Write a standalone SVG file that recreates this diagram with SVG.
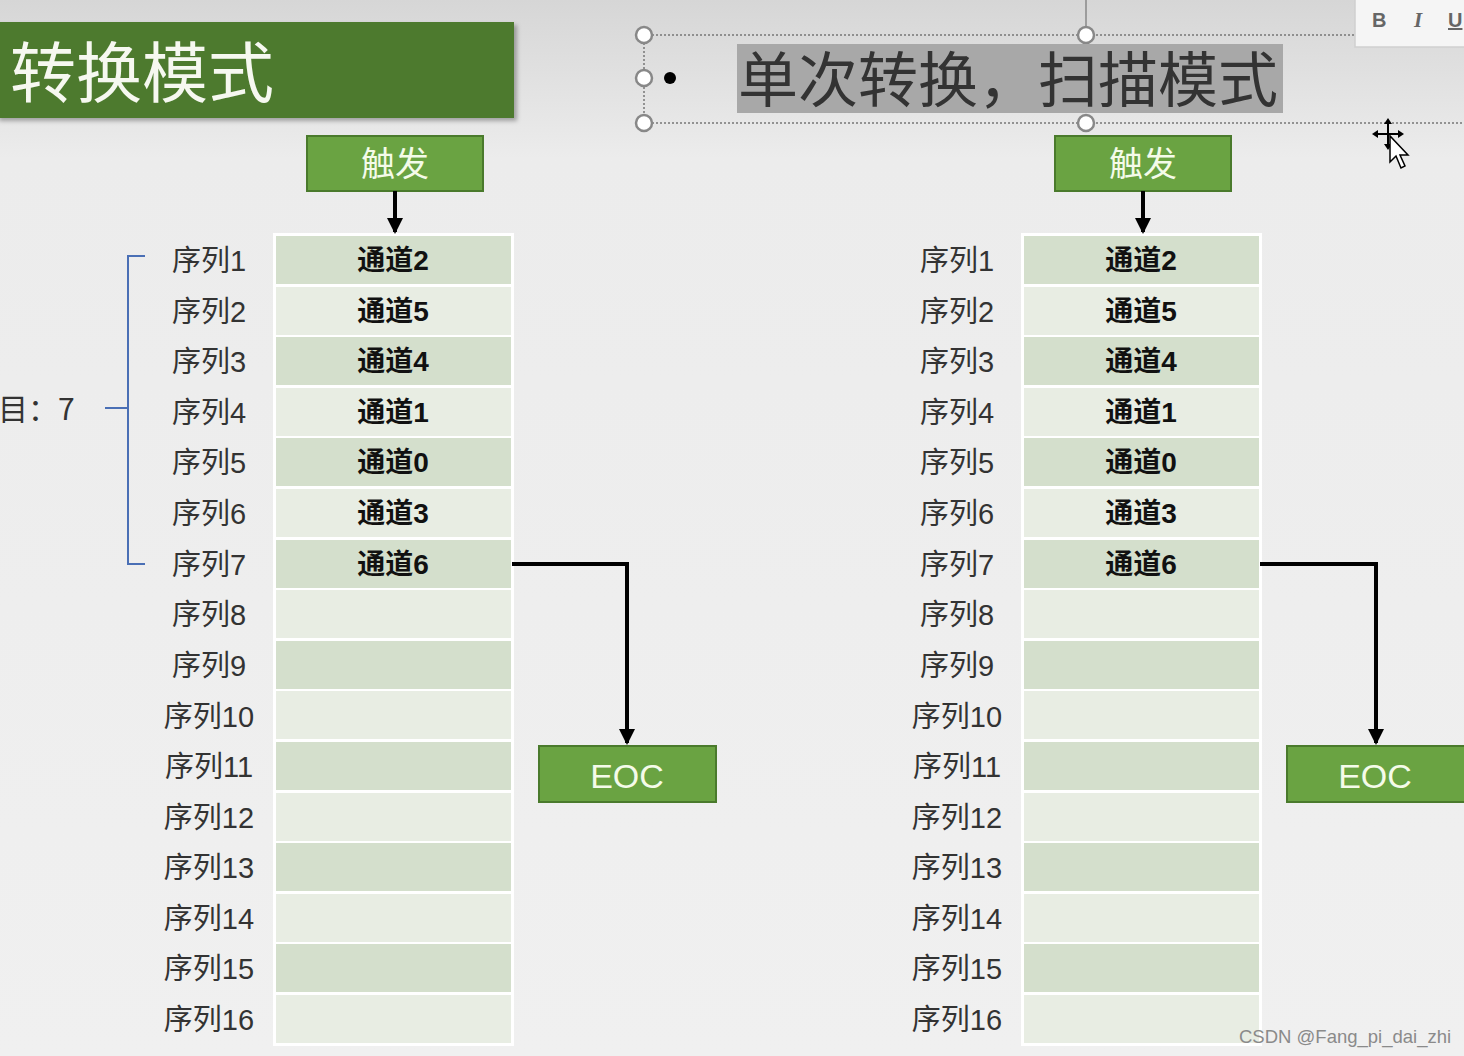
<svg xmlns="http://www.w3.org/2000/svg" width="1464" height="1056" viewBox="0 0 1464 1056">
<defs>
<linearGradient id="bg" x1="0" y1="0" x2="0" y2="1">
<stop offset="0" stop-color="#d6d6d6"/>
<stop offset="0.15" stop-color="#ececec"/>
<stop offset="1" stop-color="#f0f0f0"/>
</linearGradient>
<marker id="arr" viewBox="0 0 16 16" refX="8" refY="14" markerWidth="16" markerHeight="16" orient="0" markerUnits="userSpaceOnUse">
<path d="M0,0 L16,0 L8,16 Z" fill="#000"/>
</marker>
<filter id="sh" x="-5%" y="-10%" width="115%" height="130%">
<feDropShadow dx="3" dy="3" stdDeviation="2" flood-color="#000" flood-opacity="0.3"/>
</filter>
</defs>
<style>
.cjk{font-family:"Noto Sans CJK SC","Liberation Sans",sans-serif}
.seq{font-family:"Liberation Sans","Noto Sans CJK SC",sans-serif;font-size:29px;fill:#333;text-anchor:middle}
.ch{font-family:"Liberation Sans","Noto Sans CJK SC",sans-serif;font-size:28px;font-weight:bold;fill:#111;text-anchor:middle}
.odd{fill:#d4dfcc}
.even{fill:#e8ede3}
.gbox{fill:#6aa342;stroke:#4a7a2c;stroke-width:2}
.gtxt{font-family:"Noto Sans CJK SC","Liberation Sans",sans-serif;font-size:34px;fill:#f4fbe9;text-anchor:middle}
.conn{fill:none;stroke:#000;stroke-width:4}
.hnd{fill:#fff;stroke:#888;stroke-width:2.5}
.dot{fill:none;stroke:#777;stroke-width:1.5;stroke-dasharray:2 2}
</style>
<rect width="1464" height="1056" fill="url(#bg)"/>

<g id="title-left">
<rect x="-4" y="22" width="518" height="96" fill="#4e7a2f" filter="url(#sh)"/>
<text x="10" y="97" class="cjk" font-size="66" fill="#f6f8f0">转换模式</text>
</g>

<g id="title-right">
<line x1="1086" y1="0" x2="1086" y2="35" stroke="#888" stroke-width="1.5"/>
<line x1="644" y1="35" x2="1464" y2="35" class="dot"/>
<line x1="644" y1="123" x2="1464" y2="123" class="dot"/>
<line x1="644" y1="35" x2="644" y2="123" class="dot"/>
<circle cx="644" cy="35" r="8" class="hnd"/>
<circle cx="644" cy="78" r="8" class="hnd"/>
<circle cx="644" cy="123" r="8" class="hnd"/>
<circle cx="1086" cy="35" r="8" class="hnd"/>
<circle cx="1086" cy="123" r="8" class="hnd"/>
<circle cx="670" cy="78" r="6" fill="#000"/>
<rect x="737" y="44" width="546" height="69" fill="#a8a8a8"/>
<text x="738" y="102" class="cjk" font-size="60" fill="#333">单次转换，扫描模式</text>
</g>

<g id="toolbar">
<rect x="1355" y="-2" width="115" height="49" fill="#f5f5f5" stroke="#cfcfcf" stroke-width="1.5"/>
<text x="1372" y="27" font-family="Liberation Sans,sans-serif" font-size="20" font-weight="bold" fill="#666">B</text>
<text x="1414" y="27" font-family="Liberation Serif,serif" font-size="21" font-style="italic" font-weight="bold" fill="#666">I</text>
<text x="1448" y="27" font-family="Liberation Sans,sans-serif" font-size="20" font-weight="bold" fill="#666" text-decoration="underline">U</text>
</g>

<g id="cursor">
<path d="M1388,120 L1388,148 M1374,134 L1402,134" stroke="#000" stroke-width="2" fill="none"/>
<path d="M1384,124 L1388,118 L1392,124 Z M1384,144 L1388,150 L1392,144 Z M1378,130 L1372,134 L1378,138 Z M1398,130 L1404,134 L1398,138 Z" fill="#000"/>
<path d="M1390,136 L1390,162 L1396,156 L1401,168 L1405,166 L1400,155 L1408,155 Z" fill="#fff" stroke="#000" stroke-width="1.5"/>
</g>

<g id="brace-left">
<path d="M145,256 L128,256 L128,564 L145,564 M128,408 L105,408" fill="none" stroke="#4a6fb5" stroke-width="2"/>
<text x="-2" y="420" class="cjk" font-size="30" fill="#333">目：7</text>
</g>

<g id="trigger-left">
<rect x="307" y="136" width="176" height="55" class="gbox"/>
<text x="395" y="176" class="gtxt">触发</text>
</g>
<g id="trigger-right">
<rect x="1055" y="136" width="176" height="55" class="gbox"/>
<text x="1143" y="176" class="gtxt">触发</text>
</g>
<g id="eoc-left">
<rect x="539" y="746" width="177" height="56" class="gbox"/>
<text x="627" y="788" font-family="Liberation Sans,sans-serif" font-size="34" fill="#f4fbe9" text-anchor="middle">EOC</text>
</g>
<g id="eoc-right">
<rect x="1287" y="746" width="180" height="56" class="gbox"/>
<text x="1375" y="788" font-family="Liberation Sans,sans-serif" font-size="34" fill="#f4fbe9" text-anchor="middle">EOC</text>
</g>

<g id="table-left">
<rect x="273" y="233" width="241" height="813" fill="#fff"/>
<rect x="276" y="236" width="235" height="48" class="odd"/>
<rect x="276" y="287" width="235" height="48" class="even"/>
<rect x="276" y="337" width="235" height="48" class="odd"/>
<rect x="276" y="388" width="235" height="48" class="even"/>
<rect x="276" y="438" width="235" height="48" class="odd"/>
<rect x="276" y="489" width="235" height="48" class="even"/>
<rect x="276" y="540" width="235" height="48" class="odd"/>
<rect x="276" y="590" width="235" height="48" class="even"/>
<rect x="276" y="641" width="235" height="48" class="odd"/>
<rect x="276" y="691" width="235" height="48" class="even"/>
<rect x="276" y="742" width="235" height="48" class="odd"/>
<rect x="276" y="793" width="235" height="48" class="even"/>
<rect x="276" y="843" width="235" height="48" class="odd"/>
<rect x="276" y="894" width="235" height="48" class="even"/>
<rect x="276" y="944" width="235" height="48" class="odd"/>
<rect x="276" y="995" width="235" height="48" class="even"/>
<text x="393" y="270" class="ch">通道2</text>
<text x="393" y="321" class="ch">通道5</text>
<text x="393" y="371" class="ch">通道4</text>
<text x="393" y="422" class="ch">通道1</text>
<text x="393" y="472" class="ch">通道0</text>
<text x="393" y="523" class="ch">通道3</text>
<text x="393" y="574" class="ch">通道6</text>
<text x="209" y="271" class="seq">序列1</text>
<text x="209" y="322" class="seq">序列2</text>
<text x="209" y="372" class="seq">序列3</text>
<text x="209" y="423" class="seq">序列4</text>
<text x="209" y="473" class="seq">序列5</text>
<text x="209" y="524" class="seq">序列6</text>
<text x="209" y="575" class="seq">序列7</text>
<text x="209" y="625" class="seq">序列8</text>
<text x="209" y="676" class="seq">序列9</text>
<text x="209" y="727" class="seq">序列10</text>
<text x="209" y="777" class="seq">序列11</text>
<text x="209" y="828" class="seq">序列12</text>
<text x="209" y="878" class="seq">序列13</text>
<text x="209" y="929" class="seq">序列14</text>
<text x="209" y="979" class="seq">序列15</text>
<text x="209" y="1030" class="seq">序列16</text>
</g>

<g id="table-right">
<rect x="1021" y="233" width="241" height="813" fill="#fff"/>
<rect x="1024" y="236" width="235" height="48" class="odd"/>
<rect x="1024" y="287" width="235" height="48" class="even"/>
<rect x="1024" y="337" width="235" height="48" class="odd"/>
<rect x="1024" y="388" width="235" height="48" class="even"/>
<rect x="1024" y="438" width="235" height="48" class="odd"/>
<rect x="1024" y="489" width="235" height="48" class="even"/>
<rect x="1024" y="540" width="235" height="48" class="odd"/>
<rect x="1024" y="590" width="235" height="48" class="even"/>
<rect x="1024" y="641" width="235" height="48" class="odd"/>
<rect x="1024" y="691" width="235" height="48" class="even"/>
<rect x="1024" y="742" width="235" height="48" class="odd"/>
<rect x="1024" y="793" width="235" height="48" class="even"/>
<rect x="1024" y="843" width="235" height="48" class="odd"/>
<rect x="1024" y="894" width="235" height="48" class="even"/>
<rect x="1024" y="944" width="235" height="48" class="odd"/>
<rect x="1024" y="995" width="235" height="48" class="even"/>
<text x="1141" y="270" class="ch">通道2</text>
<text x="1141" y="321" class="ch">通道5</text>
<text x="1141" y="371" class="ch">通道4</text>
<text x="1141" y="422" class="ch">通道1</text>
<text x="1141" y="472" class="ch">通道0</text>
<text x="1141" y="523" class="ch">通道3</text>
<text x="1141" y="574" class="ch">通道6</text>
<text x="957" y="271" class="seq">序列1</text>
<text x="957" y="322" class="seq">序列2</text>
<text x="957" y="372" class="seq">序列3</text>
<text x="957" y="423" class="seq">序列4</text>
<text x="957" y="473" class="seq">序列5</text>
<text x="957" y="524" class="seq">序列6</text>
<text x="957" y="575" class="seq">序列7</text>
<text x="957" y="625" class="seq">序列8</text>
<text x="957" y="676" class="seq">序列9</text>
<text x="957" y="727" class="seq">序列10</text>
<text x="957" y="777" class="seq">序列11</text>
<text x="957" y="828" class="seq">序列12</text>
<text x="957" y="878" class="seq">序列13</text>
<text x="957" y="929" class="seq">序列14</text>
<text x="957" y="979" class="seq">序列15</text>
<text x="957" y="1030" class="seq">序列16</text>
</g>

<g id="connectors">
<path d="M395,191 L395,232" class="conn" marker-end="url(#arr)"/>
<path d="M1143,191 L1143,232" class="conn" marker-end="url(#arr)"/>
<path d="M512,564 L627,564 L627,743" class="conn" marker-end="url(#arr)"/>
<path d="M1260,564 L1376,564 L1376,743" class="conn" marker-end="url(#arr)"/>
</g>

<text x="1239" y="1043" font-family="Liberation Sans,sans-serif" font-size="18.5" fill="#8a8a8a">CSDN @Fang_pi_dai_zhi</text>
</svg>
